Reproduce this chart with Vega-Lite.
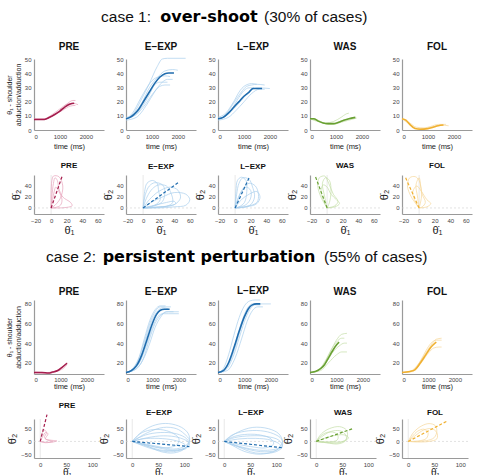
{
"$schema":"https://vega.github.io/schema/vega-lite/v6.json",
"padding":{"left":5,"top":5,"right":5,"bottom":0},
"autosize":{"type":"pad"},
"config":{"font":"Liberation Sans","view":{"stroke":null},
"axis":{"grid":false,"domainColor":"#9a9a9a","domainWidth":1.2,"ticks":false,"labelFontSize":6,"labelColor":"#444","labelPadding":3,"titleFontSize":7.5,"titleFontWeight":"normal","titleColor":"#222","titlePadding":3},
"title":{"fontSize":10,"fontWeight":"bold","offset":5,"color":"#111"}},
"datasets":{
"a1":[{"k":0,"t":0,"v":7.5},{"k":0,"t":400,"v":7.5},{"k":0,"t":600,"v":9},{"k":0,"t":800,"v":11},{"k":0,"t":1000,"v":13.5},{"k":0,"t":1200,"v":16.5},{"k":0,"t":1400,"v":18.5},{"k":0,"t":1550,"v":19},
{"k":1,"t":0,"v":7.5},{"k":1,"t":400,"v":7.5},{"k":1,"t":700,"v":10},{"k":1,"t":1000,"v":14},{"k":1,"t":1300,"v":19},{"k":1,"t":1500,"v":21},{"k":1,"t":1600,"v":21},
{"k":2,"t":0,"v":7.5},{"k":2,"t":500,"v":8},{"k":2,"t":800,"v":11},{"k":2,"t":1100,"v":14},{"k":2,"t":1400,"v":17},{"k":2,"t":1600,"v":17.5},
{"k":3,"t":0,"v":8},{"k":3,"t":400,"v":8},{"k":3,"t":700,"v":11},{"k":3,"t":1000,"v":15},{"k":3,"t":1300,"v":18.5},{"k":3,"t":1500,"v":19},{"k":3,"t":1700,"v":18}],
"a2":[{"k":0,"t":0,"v":8},{"k":0,"t":150,"v":9},{"k":0,"t":300,"v":11},{"k":0,"t":500,"v":15},{"k":0,"t":700,"v":21},{"k":0,"t":900,"v":27},{"k":0,"t":1100,"v":33},{"k":0,"t":1300,"v":37.5},{"k":0,"t":1500,"v":40},{"k":0,"t":1650,"v":40.5},{"k":0,"t":1850,"v":40.5},
{"k":1,"t":0,"v":8},{"k":1,"t":300,"v":12},{"k":1,"t":600,"v":22},{"k":1,"t":900,"v":33},{"k":1,"t":1200,"v":45},{"k":1,"t":1400,"v":50.5},{"k":1,"t":1600,"v":51},{"k":1,"t":2300,"v":51},
{"k":2,"t":0,"v":8},{"k":2,"t":300,"v":11},{"k":2,"t":600,"v":19},{"k":2,"t":900,"v":30},{"k":2,"t":1200,"v":37},{"k":2,"t":1500,"v":42},{"k":2,"t":1800,"v":43},{"k":2,"t":2000,"v":42.5},
{"k":3,"t":0,"v":8},{"k":3,"t":300,"v":10},{"k":3,"t":600,"v":16},{"k":3,"t":900,"v":25},{"k":3,"t":1100,"v":32},{"k":3,"t":1300,"v":34},{"k":3,"t":1600,"v":34},
{"k":4,"t":0,"v":9},{"k":4,"t":300,"v":10},{"k":4,"t":700,"v":17},{"k":4,"t":1000,"v":25},{"k":4,"t":1300,"v":31},{"k":4,"t":1500,"v":32},{"k":4,"t":1700,"v":32},
{"k":5,"t":0,"v":8},{"k":5,"t":250,"v":12},{"k":5,"t":550,"v":22},{"k":5,"t":800,"v":30},{"k":5,"t":1000,"v":35},{"k":5,"t":1300,"v":38},{"k":5,"t":1500,"v":38.5},{"k":5,"t":1700,"v":38},
{"k":6,"t":0,"v":7},{"k":6,"t":400,"v":9},{"k":6,"t":800,"v":18},{"k":6,"t":1100,"v":27},{"k":6,"t":1400,"v":34},{"k":6,"t":1600,"v":36},{"k":6,"t":1800,"v":36}],
"a3":[{"k":0,"t":0,"v":8},{"k":0,"t":200,"v":9},{"k":0,"t":400,"v":12},{"k":0,"t":600,"v":16},{"k":0,"t":800,"v":20},{"k":0,"t":1000,"v":24},{"k":0,"t":1200,"v":27},{"k":0,"t":1350,"v":29.5},{"k":0,"t":1700,"v":29.5},
{"k":1,"t":0,"v":8},{"k":1,"t":300,"v":11},{"k":1,"t":600,"v":19},{"k":1,"t":900,"v":27},{"k":1,"t":1100,"v":31},{"k":1,"t":1300,"v":32},{"k":1,"t":1500,"v":32.5},{"k":1,"t":1800,"v":32},
{"k":2,"t":0,"v":8},{"k":2,"t":300,"v":10},{"k":2,"t":600,"v":15},{"k":2,"t":900,"v":21},{"k":2,"t":1200,"v":27},{"k":2,"t":1500,"v":30},{"k":2,"t":2000,"v":29.5},
{"k":3,"t":0,"v":9},{"k":3,"t":300,"v":12},{"k":3,"t":600,"v":20},{"k":3,"t":850,"v":28},{"k":3,"t":1000,"v":31},{"k":3,"t":1300,"v":33},{"k":3,"t":1500,"v":32.5},
{"k":4,"t":0,"v":7},{"k":4,"t":400,"v":9},{"k":4,"t":700,"v":14},{"k":4,"t":1000,"v":20},{"k":4,"t":1300,"v":26},{"k":4,"t":1600,"v":29},{"k":4,"t":1800,"v":29},
{"k":5,"t":0,"v":8},{"k":5,"t":300,"v":10},{"k":5,"t":500,"v":14},{"k":5,"t":800,"v":23},{"k":5,"t":1000,"v":28},{"k":5,"t":1200,"v":30},{"k":5,"t":1400,"v":30}],
"a4":[{"k":0,"t":0,"v":8},{"k":0,"t":150,"v":8},{"k":0,"t":300,"v":6.5},{"k":0,"t":500,"v":5},{"k":0,"t":700,"v":4.5},{"k":0,"t":900,"v":4.5},{"k":0,"t":1100,"v":5.5},{"k":0,"t":1300,"v":7},{"k":0,"t":1500,"v":8},{"k":0,"t":1750,"v":9},
{"k":1,"t":0,"v":8},{"k":1,"t":300,"v":6},{"k":1,"t":600,"v":5},{"k":1,"t":900,"v":6},{"k":1,"t":1200,"v":9},{"k":1,"t":1400,"v":11.5},{"k":1,"t":1500,"v":12},
{"k":2,"t":0,"v":8},{"k":2,"t":300,"v":7},{"k":2,"t":600,"v":4.5},{"k":2,"t":900,"v":4},{"k":2,"t":1200,"v":5.5},{"k":2,"t":1500,"v":7},{"k":2,"t":1800,"v":8.5},
{"k":3,"t":0,"v":8},{"k":3,"t":400,"v":6},{"k":3,"t":700,"v":4},{"k":3,"t":1000,"v":4.5},{"k":3,"t":1300,"v":7},{"k":3,"t":1700,"v":9}],
"a5":[{"k":0,"t":0,"v":8},{"k":0,"t":150,"v":7},{"k":0,"t":300,"v":4},{"k":0,"t":500,"v":1},{"k":0,"t":700,"v":0.5},{"k":0,"t":1000,"v":1},{"k":0,"t":1200,"v":2},{"k":0,"t":1400,"v":3},{"k":0,"t":1600,"v":3.5},
{"k":1,"t":0,"v":8},{"k":1,"t":300,"v":4},{"k":1,"t":600,"v":1},{"k":1,"t":900,"v":1},{"k":1,"t":1200,"v":2.5},{"k":1,"t":1500,"v":3.5},{"k":1,"t":1800,"v":3},
{"k":2,"t":0,"v":8},{"k":2,"t":300,"v":5},{"k":2,"t":550,"v":2},{"k":2,"t":850,"v":1.5},{"k":2,"t":1100,"v":2.5},{"k":2,"t":1400,"v":4},{"k":2,"t":1700,"v":4}],
"b1":[{"k":0,"i":0,"x":0,"y":0},{"k":0,"i":1,"x":14,"y":57},
{"k":1,"i":0,"x":0,"y":0},{"k":1,"i":1,"x":1,"y":20},{"k":1,"i":2,"x":3,"y":45},{"k":1,"i":3,"x":5,"y":55},{"k":1,"i":4,"x":8,"y":50},{"k":1,"i":5,"x":10,"y":35},{"k":1,"i":6,"x":15,"y":20},{"k":1,"i":7,"x":25,"y":10},{"k":1,"i":8,"x":27,"y":4},{"k":1,"i":9,"x":20,"y":1},{"k":1,"i":10,"x":10,"y":0},{"k":1,"i":11,"x":0,"y":0},
{"k":2,"i":0,"x":0,"y":0},{"k":2,"i":1,"x":2,"y":15},{"k":2,"i":2,"x":4,"y":30},{"k":2,"i":3,"x":6,"y":38},{"k":2,"i":4,"x":10,"y":30},{"k":2,"i":5,"x":14,"y":15},{"k":2,"i":6,"x":12,"y":5},{"k":2,"i":7,"x":6,"y":1},{"k":2,"i":8,"x":0,"y":0},
{"k":3,"i":0,"x":0,"y":0},{"k":3,"i":1,"x":0,"y":25},{"k":3,"i":2,"x":1,"y":50},{"k":3,"i":3,"x":3,"y":58},{"k":3,"i":4,"x":10,"y":57},{"k":3,"i":5,"x":15,"y":40},{"k":3,"i":6,"x":12,"y":18},{"k":3,"i":7,"x":5,"y":5},{"k":3,"i":8,"x":0,"y":0}],
"b2":[{"k":0,"i":0,"x":0,"y":0},{"k":0,"i":1,"x":45,"y":46},
{"k":1,"i":0,"x":0,"y":0},{"k":1,"i":1,"x":5,"y":20},{"k":1,"i":2,"x":12,"y":35},{"k":1,"i":3,"x":20,"y":42},{"k":1,"i":4,"x":30,"y":40},{"k":1,"i":5,"x":35,"y":30},{"k":1,"i":6,"x":38,"y":10},{"k":1,"i":7,"x":30,"y":3},{"k":1,"i":8,"x":15,"y":1},{"k":1,"i":9,"x":0,"y":0},
{"k":2,"i":0,"x":0,"y":0},{"k":2,"i":1,"x":3,"y":25},{"k":2,"i":2,"x":8,"y":40},{"k":2,"i":3,"x":15,"y":46},{"k":2,"i":4,"x":25,"y":42},{"k":2,"i":5,"x":28,"y":30},{"k":2,"i":6,"x":25,"y":12},{"k":2,"i":7,"x":15,"y":4},{"k":2,"i":8,"x":0,"y":0},
{"k":3,"i":0,"x":0,"y":0},{"k":3,"i":1,"x":10,"y":10},{"k":3,"i":2,"x":25,"y":20},{"k":3,"i":3,"x":40,"y":28},{"k":3,"i":4,"x":55,"y":25},{"k":3,"i":5,"x":60,"y":15},{"k":3,"i":6,"x":55,"y":5},{"k":3,"i":7,"x":40,"y":2},{"k":3,"i":8,"x":20,"y":0},{"k":3,"i":9,"x":0,"y":0},
{"k":4,"i":0,"x":0,"y":0},{"k":4,"i":1,"x":2,"y":30},{"k":4,"i":2,"x":5,"y":45},{"k":4,"i":3,"x":12,"y":50},{"k":4,"i":4,"x":18,"y":45},{"k":4,"i":5,"x":20,"y":30},{"k":4,"i":6,"x":22,"y":15},{"k":4,"i":7,"x":15,"y":5},{"k":4,"i":8,"x":0,"y":0},
{"k":5,"i":0,"x":0,"y":0},{"k":5,"i":1,"x":8,"y":15},{"k":5,"i":2,"x":20,"y":30},{"k":5,"i":3,"x":35,"y":38},{"k":5,"i":4,"x":45,"y":32},{"k":5,"i":5,"x":48,"y":18},{"k":5,"i":6,"x":40,"y":6},{"k":5,"i":7,"x":20,"y":2},{"k":5,"i":8,"x":0,"y":0},
{"k":6,"i":0,"x":0,"y":0},{"k":6,"i":1,"x":15,"y":5},{"k":6,"i":2,"x":30,"y":10},{"k":6,"i":3,"x":40,"y":12},{"k":6,"i":4,"x":42,"y":8},{"k":6,"i":5,"x":30,"y":3},{"k":6,"i":6,"x":0,"y":0}],
"b3":[{"k":0,"i":0,"x":0,"y":0},{"k":0,"i":1,"x":18,"y":55},
{"k":1,"i":0,"x":0,"y":0},{"k":1,"i":1,"x":2,"y":25},{"k":1,"i":2,"x":5,"y":45},{"k":1,"i":3,"x":10,"y":55},{"k":1,"i":4,"x":18,"y":52},{"k":1,"i":5,"x":22,"y":40},{"k":1,"i":6,"x":25,"y":20},{"k":1,"i":7,"x":20,"y":6},{"k":1,"i":8,"x":10,"y":1},{"k":1,"i":9,"x":0,"y":0},
{"k":2,"i":0,"x":0,"y":0},{"k":2,"i":1,"x":5,"y":20},{"k":2,"i":2,"x":10,"y":35},{"k":2,"i":3,"x":18,"y":45},{"k":2,"i":4,"x":26,"y":40},{"k":2,"i":5,"x":30,"y":25},{"k":2,"i":6,"x":28,"y":10},{"k":2,"i":7,"x":15,"y":3},{"k":2,"i":8,"x":0,"y":0},
{"k":3,"i":0,"x":0,"y":0},{"k":3,"i":1,"x":1,"y":30},{"k":3,"i":2,"x":3,"y":50},{"k":3,"i":3,"x":8,"y":56},{"k":3,"i":4,"x":14,"y":50},{"k":3,"i":5,"x":15,"y":30},{"k":3,"i":6,"x":12,"y":10},{"k":3,"i":7,"x":5,"y":2},{"k":3,"i":8,"x":0,"y":0},
{"k":4,"i":0,"x":0,"y":0},{"k":4,"i":1,"x":8,"y":15},{"k":4,"i":2,"x":18,"y":25},{"k":4,"i":3,"x":28,"y":30},{"k":4,"i":4,"x":32,"y":20},{"k":4,"i":5,"x":28,"y":8},{"k":4,"i":6,"x":15,"y":2},{"k":4,"i":7,"x":0,"y":0},
{"k":5,"i":0,"x":0,"y":0},{"k":5,"i":1,"x":3,"y":15},{"k":5,"i":2,"x":8,"y":30},{"k":5,"i":3,"x":14,"y":38},{"k":5,"i":4,"x":20,"y":32},{"k":5,"i":5,"x":20,"y":18},{"k":5,"i":6,"x":14,"y":6},{"k":5,"i":7,"x":0,"y":0}],
"b4":[{"k":0,"i":0,"x":0,"y":0},{"k":0,"i":1,"x":-15,"y":57},
{"k":1,"i":0,"x":0,"y":0},{"k":1,"i":1,"x":-8,"y":20},{"k":1,"i":2,"x":-12,"y":40},{"k":1,"i":3,"x":-10,"y":55},{"k":1,"i":4,"x":-3,"y":58},{"k":1,"i":5,"x":2,"y":45},{"k":1,"i":6,"x":8,"y":25},{"k":1,"i":7,"x":14,"y":12},{"k":1,"i":8,"x":10,"y":4},{"k":1,"i":9,"x":0,"y":0},
{"k":2,"i":0,"x":0,"y":0},{"k":2,"i":1,"x":-5,"y":15},{"k":2,"i":2,"x":-8,"y":30},{"k":2,"i":3,"x":-5,"y":42},{"k":2,"i":4,"x":0,"y":38},{"k":2,"i":5,"x":5,"y":25},{"k":2,"i":6,"x":12,"y":15},{"k":2,"i":7,"x":16,"y":8},{"k":2,"i":8,"x":10,"y":2},{"k":2,"i":9,"x":0,"y":0},
{"k":3,"i":0,"x":0,"y":0},{"k":3,"i":1,"x":-3,"y":20},{"k":3,"i":2,"x":-6,"y":45},{"k":3,"i":3,"x":-2,"y":55},{"k":3,"i":4,"x":3,"y":50},{"k":3,"i":5,"x":5,"y":30},{"k":3,"i":6,"x":3,"y":10},{"k":3,"i":7,"x":0,"y":0}],
"b5":[{"k":0,"i":0,"x":0,"y":0},{"k":0,"i":1,"x":-18,"y":57},
{"k":1,"i":0,"x":0,"y":0},{"k":1,"i":1,"x":-10,"y":20},{"k":1,"i":2,"x":-15,"y":40},{"k":1,"i":3,"x":-12,"y":55},{"k":1,"i":4,"x":-5,"y":57},{"k":1,"i":5,"x":0,"y":50},{"k":1,"i":6,"x":4,"y":25},{"k":1,"i":7,"x":8,"y":10},{"k":1,"i":8,"x":4,"y":2},{"k":1,"i":9,"x":0,"y":0},
{"k":2,"i":0,"x":0,"y":0},{"k":2,"i":1,"x":-6,"y":15},{"k":2,"i":2,"x":-8,"y":30},{"k":2,"i":3,"x":-3,"y":40},{"k":2,"i":4,"x":3,"y":30},{"k":2,"i":5,"x":10,"y":15},{"k":2,"i":6,"x":15,"y":8},{"k":2,"i":7,"x":10,"y":2},{"k":2,"i":8,"x":0,"y":0},
{"k":3,"i":0,"x":0,"y":0},{"k":3,"i":1,"x":-2,"y":20},{"k":3,"i":2,"x":-4,"y":42},{"k":3,"i":3,"x":0,"y":55},{"k":3,"i":4,"x":2,"y":40},{"k":3,"i":5,"x":3,"y":20},{"k":3,"i":6,"x":0,"y":0}],
"c1":[{"k":0,"t":0,"v":10},{"k":0,"t":300,"v":10},{"k":0,"t":550,"v":9.5},{"k":0,"t":700,"v":10.5},{"k":0,"t":900,"v":12},{"k":0,"t":1050,"v":15},{"k":0,"t":1250,"v":19.5},
{"k":1,"t":0,"v":10.5},{"k":1,"t":500,"v":10},{"k":1,"t":900,"v":12.5},{"k":1,"t":1100,"v":16},{"k":1,"t":1250,"v":20},
{"k":2,"t":0,"v":9.5},{"k":2,"t":500,"v":9},{"k":2,"t":900,"v":11.5},{"k":2,"t":1100,"v":14},{"k":2,"t":1250,"v":18}],
"c2":[{"k":0,"t":0,"v":10},{"k":0,"t":200,"v":12},{"k":0,"t":400,"v":17},{"k":0,"t":600,"v":28},{"k":0,"t":800,"v":44},{"k":0,"t":1000,"v":60},{"k":0,"t":1150,"v":69},{"k":0,"t":1300,"v":73.5},{"k":0,"t":1450,"v":74.5},{"k":0,"t":1650,"v":74.5},
{"k":1,"t":0,"v":10},{"k":1,"t":300,"v":15},{"k":1,"t":500,"v":25},{"k":1,"t":700,"v":42},{"k":1,"t":900,"v":60},{"k":1,"t":1100,"v":72},{"k":1,"t":1300,"v":77},{"k":1,"t":1500,"v":77},{"k":1,"t":1700,"v":77},
{"k":2,"t":0,"v":10},{"k":2,"t":300,"v":13},{"k":2,"t":600,"v":25},{"k":2,"t":800,"v":40},{"k":2,"t":1000,"v":56},{"k":2,"t":1200,"v":67},{"k":2,"t":1400,"v":70},{"k":2,"t":1600,"v":70},{"k":2,"t":2000,"v":70},
{"k":3,"t":0,"v":10},{"k":3,"t":300,"v":14},{"k":3,"t":600,"v":30},{"k":3,"t":800,"v":48},{"k":3,"t":1000,"v":64},{"k":3,"t":1200,"v":73},{"k":3,"t":1400,"v":76},{"k":3,"t":1600,"v":75},
{"k":4,"t":0,"v":10},{"k":4,"t":400,"v":14},{"k":4,"t":700,"v":26},{"k":4,"t":900,"v":40},{"k":4,"t":1100,"v":56},{"k":4,"t":1300,"v":66},{"k":4,"t":1500,"v":72},{"k":4,"t":1800,"v":72},
{"k":5,"t":0,"v":10},{"k":5,"t":250,"v":14},{"k":5,"t":500,"v":26},{"k":5,"t":700,"v":45},{"k":5,"t":900,"v":63},{"k":5,"t":1100,"v":74},{"k":5,"t":1300,"v":78},{"k":5,"t":1500,"v":78},
{"k":6,"t":0,"v":10},{"k":6,"t":350,"v":13},{"k":6,"t":650,"v":24},{"k":6,"t":900,"v":45},{"k":6,"t":1100,"v":60},{"k":6,"t":1300,"v":68},{"k":6,"t":1600,"v":72},{"k":6,"t":2000,"v":72}],
"c3":[{"k":0,"t":0,"v":10},{"k":0,"t":200,"v":12},{"k":0,"t":400,"v":20},{"k":0,"t":600,"v":35},{"k":0,"t":800,"v":52},{"k":0,"t":1000,"v":67},{"k":0,"t":1150,"v":75},{"k":0,"t":1300,"v":79},{"k":0,"t":1450,"v":80},{"k":0,"t":1600,"v":80},
{"k":1,"t":0,"v":10},{"k":1,"t":200,"v":14},{"k":1,"t":400,"v":28},{"k":1,"t":600,"v":48},{"k":1,"t":800,"v":66},{"k":1,"t":1000,"v":78},{"k":1,"t":1200,"v":83},{"k":1,"t":1400,"v":84},{"k":1,"t":1600,"v":84},
{"k":2,"t":0,"v":10},{"k":2,"t":300,"v":14},{"k":2,"t":500,"v":24},{"k":2,"t":700,"v":40},{"k":2,"t":900,"v":58},{"k":2,"t":1100,"v":72},{"k":2,"t":1300,"v":79},{"k":2,"t":1500,"v":80},{"k":2,"t":2000,"v":80},
{"k":3,"t":0,"v":10},{"k":3,"t":300,"v":13},{"k":3,"t":600,"v":28},{"k":3,"t":800,"v":45},{"k":3,"t":1000,"v":62},{"k":3,"t":1200,"v":74},{"k":3,"t":1400,"v":79},{"k":3,"t":1600,"v":79},
{"k":4,"t":0,"v":10},{"k":4,"t":250,"v":13},{"k":4,"t":500,"v":26},{"k":4,"t":700,"v":44},{"k":4,"t":900,"v":62},{"k":4,"t":1100,"v":75},{"k":4,"t":1300,"v":80},{"k":4,"t":1600,"v":80},
{"k":5,"t":0,"v":10},{"k":5,"t":350,"v":12},{"k":5,"t":650,"v":25},{"k":5,"t":900,"v":45},{"k":5,"t":1100,"v":62},{"k":5,"t":1300,"v":73},{"k":5,"t":1500,"v":77},{"k":5,"t":1700,"v":77}],
"c4":[{"k":0,"t":0,"v":10},{"k":0,"t":200,"v":11},{"k":0,"t":400,"v":14},{"k":0,"t":550,"v":18},{"k":0,"t":700,"v":25},{"k":0,"t":850,"v":32},{"k":0,"t":1000,"v":38},{"k":0,"t":1100,"v":41},
{"k":1,"t":0,"v":10},{"k":1,"t":300,"v":12},{"k":1,"t":600,"v":22},{"k":1,"t":800,"v":33},{"k":1,"t":1000,"v":43},{"k":1,"t":1200,"v":49},{"k":1,"t":1400,"v":50},
{"k":2,"t":0,"v":10},{"k":2,"t":300,"v":12},{"k":2,"t":600,"v":20},{"k":2,"t":900,"v":32},{"k":2,"t":1100,"v":37},{"k":2,"t":1300,"v":40},{"k":2,"t":1400,"v":40},
{"k":3,"t":0,"v":10},{"k":3,"t":400,"v":12},{"k":3,"t":700,"v":20},{"k":3,"t":1000,"v":28},{"k":3,"t":1200,"v":31},{"k":3,"t":1400,"v":31},
{"k":4,"t":0,"v":10},{"k":4,"t":300,"v":12},{"k":4,"t":600,"v":23},{"k":4,"t":800,"v":33},{"k":4,"t":1000,"v":41},{"k":4,"t":1200,"v":45},{"k":4,"t":1300,"v":45}],
"c5":[{"k":0,"t":0,"v":10},{"k":0,"t":300,"v":11},{"k":0,"t":500,"v":13},{"k":0,"t":700,"v":20},{"k":0,"t":900,"v":28},{"k":0,"t":1100,"v":36},{"k":0,"t":1250,"v":40},{"k":0,"t":1300,"v":41},
{"k":1,"t":0,"v":10},{"k":1,"t":300,"v":11},{"k":1,"t":600,"v":18},{"k":1,"t":900,"v":30},{"k":1,"t":1100,"v":38},{"k":1,"t":1300,"v":44},{"k":1,"t":1500,"v":45},
{"k":2,"t":0,"v":10},{"k":2,"t":400,"v":11},{"k":2,"t":700,"v":19},{"k":2,"t":1000,"v":30},{"k":2,"t":1200,"v":35},{"k":2,"t":1400,"v":36},{"k":2,"t":1500,"v":36},
{"k":3,"t":0,"v":10},{"k":3,"t":400,"v":12},{"k":3,"t":700,"v":22},{"k":3,"t":900,"v":32},{"k":3,"t":1100,"v":40},{"k":3,"t":1300,"v":43},{"k":3,"t":1500,"v":43}],
"d1":[{"k":0,"i":0,"x":0,"y":0},{"k":0,"i":1,"x":13,"y":105},
{"k":1,"i":0,"x":0,"y":0},{"k":1,"i":1,"x":5,"y":20},{"k":1,"i":2,"x":10,"y":35},{"k":1,"i":3,"x":15,"y":30},{"k":1,"i":4,"x":10,"y":10},{"k":1,"i":5,"x":20,"y":5},{"k":1,"i":6,"x":32,"y":2},{"k":1,"i":7,"x":25,"y":-2},{"k":1,"i":8,"x":10,"y":-3},{"k":1,"i":9,"x":0,"y":0},
{"k":2,"i":0,"x":0,"y":0},{"k":2,"i":1,"x":3,"y":30},{"k":2,"i":2,"x":8,"y":45},{"k":2,"i":3,"x":12,"y":35},{"k":2,"i":4,"x":8,"y":15},{"k":2,"i":5,"x":15,"y":5},{"k":2,"i":6,"x":25,"y":0},{"k":2,"i":7,"x":10,"y":-5},{"k":2,"i":8,"x":0,"y":0}],
"d2":[{"k":0,"i":0,"x":0,"y":0},{"k":0,"i":1,"x":110,"y":-20},
{"k":1,"i":0,"x":0,"y":0},{"k":1,"i":1,"x":20,"y":40},{"k":1,"i":2,"x":45,"y":65},{"k":1,"i":3,"x":70,"y":70},{"k":1,"i":4,"x":95,"y":55},{"k":1,"i":5,"x":108,"y":30},{"k":1,"i":6,"x":110,"y":0},{"k":1,"i":7,"x":100,"y":-20},{"k":1,"i":8,"x":80,"y":-30},{"k":1,"i":9,"x":50,"y":-20},{"k":1,"i":10,"x":20,"y":-8},{"k":1,"i":11,"x":0,"y":0},
{"k":2,"i":0,"x":0,"y":0},{"k":2,"i":1,"x":25,"y":25},{"k":2,"i":2,"x":55,"y":35},{"k":2,"i":3,"x":85,"y":30},{"k":2,"i":4,"x":105,"y":10},{"k":2,"i":5,"x":110,"y":-15},{"k":2,"i":6,"x":95,"y":-30},{"k":2,"i":7,"x":60,"y":-35},{"k":2,"i":8,"x":30,"y":-20},{"k":2,"i":9,"x":0,"y":0},
{"k":3,"i":0,"x":0,"y":0},{"k":3,"i":1,"x":30,"y":15},{"k":3,"i":2,"x":60,"y":22},{"k":3,"i":3,"x":90,"y":15},{"k":3,"i":4,"x":108,"y":-5},{"k":3,"i":5,"x":100,"y":-30},{"k":3,"i":6,"x":80,"y":-45},{"k":3,"i":7,"x":55,"y":-40},{"k":3,"i":8,"x":25,"y":-15},{"k":3,"i":9,"x":0,"y":0},
{"k":4,"i":0,"x":0,"y":0},{"k":4,"i":1,"x":15,"y":30},{"k":4,"i":2,"x":35,"y":45},{"k":4,"i":3,"x":60,"y":45},{"k":4,"i":4,"x":80,"y":30},{"k":4,"i":5,"x":90,"y":10},{"k":4,"i":6,"x":85,"y":-15},{"k":4,"i":7,"x":60,"y":-25},{"k":4,"i":8,"x":30,"y":-15},{"k":4,"i":9,"x":0,"y":0},
{"k":5,"i":0,"x":0,"y":0},{"k":5,"i":1,"x":20,"y":10},{"k":5,"i":2,"x":50,"y":12},{"k":5,"i":3,"x":80,"y":5},{"k":5,"i":4,"x":100,"y":-10},{"k":5,"i":5,"x":105,"y":-25},{"k":5,"i":6,"x":85,"y":-35},{"k":5,"i":7,"x":50,"y":-25},{"k":5,"i":8,"x":20,"y":-10},{"k":5,"i":9,"x":0,"y":0},
{"k":6,"i":0,"x":0,"y":0},{"k":6,"i":1,"x":30,"y":35},{"k":6,"i":2,"x":60,"y":55},{"k":6,"i":3,"x":85,"y":50},{"k":6,"i":4,"x":100,"y":30},{"k":6,"i":5,"x":110,"y":5},{"k":6,"i":6,"x":105,"y":-20},{"k":6,"i":7,"x":80,"y":-40},{"k":6,"i":8,"x":40,"y":-30},{"k":6,"i":9,"x":0,"y":0}],
"d3":[{"k":0,"i":0,"x":0,"y":0},{"k":0,"i":1,"x":112,"y":-25},
{"k":1,"i":0,"x":0,"y":0},{"k":1,"i":1,"x":15,"y":25},{"k":1,"i":2,"x":40,"y":40},{"k":1,"i":3,"x":70,"y":42},{"k":1,"i":4,"x":95,"y":30},{"k":1,"i":5,"x":110,"y":10},{"k":1,"i":6,"x":112,"y":-15},{"k":1,"i":7,"x":100,"y":-35},{"k":1,"i":8,"x":70,"y":-40},{"k":1,"i":9,"x":35,"y":-25},{"k":1,"i":10,"x":0,"y":0},
{"k":2,"i":0,"x":0,"y":0},{"k":2,"i":1,"x":20,"y":15},{"k":2,"i":2,"x":50,"y":22},{"k":2,"i":3,"x":80,"y":20},{"k":2,"i":4,"x":105,"y":5},{"k":2,"i":5,"x":112,"y":-20},{"k":2,"i":6,"x":100,"y":-40},{"k":2,"i":7,"x":60,"y":-45},{"k":2,"i":8,"x":25,"y":-20},{"k":2,"i":9,"x":0,"y":0},
{"k":3,"i":0,"x":0,"y":0},{"k":3,"i":1,"x":25,"y":35},{"k":3,"i":2,"x":55,"y":55},{"k":3,"i":3,"x":85,"y":50},{"k":3,"i":4,"x":105,"y":30},{"k":3,"i":5,"x":112,"y":0},{"k":3,"i":6,"x":105,"y":-25},{"k":3,"i":7,"x":75,"y":-35},{"k":3,"i":8,"x":40,"y":-25},{"k":3,"i":9,"x":0,"y":0},
{"k":4,"i":0,"x":0,"y":0},{"k":4,"i":1,"x":30,"y":10},{"k":4,"i":2,"x":60,"y":12},{"k":4,"i":3,"x":90,"y":5},{"k":4,"i":4,"x":108,"y":-15},{"k":4,"i":5,"x":100,"y":-35},{"k":4,"i":6,"x":70,"y":-50},{"k":4,"i":7,"x":40,"y":-40},{"k":4,"i":8,"x":15,"y":-15},{"k":4,"i":9,"x":0,"y":0},
{"k":5,"i":0,"x":0,"y":0},{"k":5,"i":1,"x":20,"y":20},{"k":5,"i":2,"x":45,"y":28},{"k":5,"i":3,"x":70,"y":25},{"k":5,"i":4,"x":90,"y":10},{"k":5,"i":5,"x":95,"y":-10},{"k":5,"i":6,"x":80,"y":-25},{"k":5,"i":7,"x":50,"y":-20},{"k":5,"i":8,"x":0,"y":0}],
"d4":[{"k":0,"i":0,"x":0,"y":0},{"k":0,"i":1,"x":70,"y":50},
{"k":1,"i":0,"x":0,"y":0},{"k":1,"i":1,"x":10,"y":30},{"k":1,"i":2,"x":25,"y":50},{"k":1,"i":3,"x":45,"y":58},{"k":1,"i":4,"x":58,"y":45},{"k":1,"i":5,"x":60,"y":20},{"k":1,"i":6,"x":55,"y":0},{"k":1,"i":7,"x":40,"y":-10},{"k":1,"i":8,"x":20,"y":-5},{"k":1,"i":9,"x":0,"y":0},
{"k":2,"i":0,"x":0,"y":0},{"k":2,"i":1,"x":15,"y":25},{"k":2,"i":2,"x":30,"y":40},{"k":2,"i":3,"x":45,"y":42},{"k":2,"i":4,"x":55,"y":30},{"k":2,"i":5,"x":58,"y":10},{"k":2,"i":6,"x":45,"y":-5},{"k":2,"i":7,"x":20,"y":-5},{"k":2,"i":8,"x":0,"y":0},
{"k":3,"i":0,"x":0,"y":0},{"k":3,"i":1,"x":8,"y":20},{"k":3,"i":2,"x":20,"y":35},{"k":3,"i":3,"x":35,"y":35},{"k":3,"i":4,"x":42,"y":20},{"k":3,"i":5,"x":40,"y":5},{"k":3,"i":6,"x":25,"y":-2},{"k":3,"i":7,"x":0,"y":0},
{"k":4,"i":0,"x":0,"y":0},{"k":4,"i":1,"x":20,"y":15},{"k":4,"i":2,"x":40,"y":25},{"k":4,"i":3,"x":55,"y":25},{"k":4,"i":4,"x":62,"y":15},{"k":4,"i":5,"x":55,"y":2},{"k":4,"i":6,"x":30,"y":-3},{"k":4,"i":7,"x":0,"y":0}],
"d5":[{"k":0,"i":0,"x":0,"y":0},{"k":0,"i":1,"x":75,"y":80},
{"k":1,"i":0,"x":0,"y":0},{"k":1,"i":1,"x":10,"y":35},{"k":1,"i":2,"x":25,"y":60},{"k":1,"i":3,"x":40,"y":70},{"k":1,"i":4,"x":52,"y":62},{"k":1,"i":5,"x":55,"y":40},{"k":1,"i":6,"x":50,"y":15},{"k":1,"i":7,"x":35,"y":3},{"k":1,"i":8,"x":15,"y":0},{"k":1,"i":9,"x":0,"y":0},
{"k":2,"i":0,"x":0,"y":0},{"k":2,"i":1,"x":15,"y":25},{"k":2,"i":2,"x":30,"y":45},{"k":2,"i":3,"x":45,"y":50},{"k":2,"i":4,"x":55,"y":35},{"k":2,"i":5,"x":55,"y":10},{"k":2,"i":6,"x":40,"y":0},{"k":2,"i":7,"x":15,"y":-2},{"k":2,"i":8,"x":0,"y":0},
{"k":3,"i":0,"x":0,"y":0},{"k":3,"i":1,"x":8,"y":20},{"k":3,"i":2,"x":18,"y":40},{"k":3,"i":3,"x":30,"y":48},{"k":3,"i":4,"x":38,"y":35},{"k":3,"i":5,"x":35,"y":12},{"k":3,"i":6,"x":20,"y":2},{"k":3,"i":7,"x":0,"y":0}]
},
"spacing":12,
"vconcat":[
 {"width":410,"height":24,"data":{"values":[{}]},"layer":[
  {"mark":{"type":"text","text":"case 1:","align":"right","dx":-88,"fontSize":15.5,"color":"#111"},"encoding":{}},
  {"mark":{"type":"text","text":"over-shoot","align":"center","dx":-30,"fontSize":16,"font":"DejaVu Sans","fontWeight":"bold","color":"#000"},"encoding":{}},
  {"mark":{"type":"text","text":"(30% of cases)","align":"left","dx":25,"fontSize":15.5,"color":"#111"},"encoding":{}}]},
 {"bounds":"flush","spacing":22,"hconcat":[
   {"width":70,"height":71,"title":"PRE","data":{"name":"a1"},
    "encoding":{"x":{"field":"t","type":"quantitative","scale":{"domain":[0,2700],"nice":false},"axis":{"values":[0,1000,2000],"format":"d","title":"time (ms)"}},"y":{"field":"v","type":"quantitative","scale":{"domain":[0,50.5],"nice":false},"axis":{"values":[0,10,20,30,40,50],"title":["θ₁ - shoulder","abduction/adduction"],"titleFontSize":7}}},
    "layer":[{"transform":[{"filter":"datum.k>0"}],"mark":{"type":"line","interpolate":"monotone","color":"#e7a2ba","strokeWidth":0.7},"encoding":{"detail":{"field":"k"}}},
             {"transform":[{"filter":"datum.k==0"}],"mark":{"type":"line","interpolate":"monotone","color":"#a51d4d","strokeWidth":1.6}}]},
   {"width":70,"height":71,"title":"E\u2212EXP","data":{"name":"a2"},
    "encoding":{"x":{"field":"t","type":"quantitative","scale":{"domain":[0,2700],"nice":false},"axis":{"values":[0,1000,2000],"format":"d","title":"time (ms)"}},"y":{"field":"v","type":"quantitative","scale":{"domain":[0,50.5],"nice":false},"axis":{"values":[0,10,20,30,40,50],"title":null}}},
    "layer":[{"transform":[{"filter":"datum.k>0"}],"mark":{"type":"line","interpolate":"monotone","color":"#a9cfec","strokeWidth":0.7},"encoding":{"detail":{"field":"k"}}},
             {"transform":[{"filter":"datum.k==0"}],"mark":{"type":"line","interpolate":"monotone","color":"#1f6cae","strokeWidth":1.6}}]},
   {"width":70,"height":71,"title":"L\u2212EXP","data":{"name":"a3"},
    "encoding":{"x":{"field":"t","type":"quantitative","scale":{"domain":[0,2700],"nice":false},"axis":{"values":[0,1000,2000],"format":"d","title":"time (ms)"}},"y":{"field":"v","type":"quantitative","scale":{"domain":[0,50.5],"nice":false},"axis":{"values":[0,10,20,30,40,50],"title":null}}},
    "layer":[{"transform":[{"filter":"datum.k>0"}],"mark":{"type":"line","interpolate":"monotone","color":"#a9cfec","strokeWidth":0.7},"encoding":{"detail":{"field":"k"}}},
             {"transform":[{"filter":"datum.k==0"}],"mark":{"type":"line","interpolate":"monotone","color":"#1f6cae","strokeWidth":1.6}}]},
   {"width":70,"height":71,"title":"WAS","data":{"name":"a4"},
    "encoding":{"x":{"field":"t","type":"quantitative","scale":{"domain":[0,2700],"nice":false},"axis":{"values":[0,1000,2000],"format":"d","title":"time (ms)"}},"y":{"field":"v","type":"quantitative","scale":{"domain":[0,50.5],"nice":false},"axis":{"values":[0,10,20,30,40,50],"title":null}}},
    "layer":[{"transform":[{"filter":"datum.k>0"}],"mark":{"type":"line","interpolate":"monotone","color":"#c4dea8","strokeWidth":0.7},"encoding":{"detail":{"field":"k"}}},
             {"transform":[{"filter":"datum.k==0"}],"mark":{"type":"line","interpolate":"monotone","color":"#68a032","strokeWidth":1.6}}]},
   {"width":70,"height":71,"title":"FOL","data":{"name":"a5"},
    "encoding":{"x":{"field":"t","type":"quantitative","scale":{"domain":[0,2700],"nice":false},"axis":{"values":[0,1000,2000],"format":"d","title":"time (ms)"}},"y":{"field":"v","type":"quantitative","scale":{"domain":[0,50.5],"nice":false},"axis":{"values":[0,10,20,30,40,50],"title":null}}},
    "layer":[{"transform":[{"filter":"datum.k>0"}],"mark":{"type":"line","interpolate":"monotone","color":"#f6d79a","strokeWidth":0.7},"encoding":{"detail":{"field":"k"}}},
             {"transform":[{"filter":"datum.k==0"}],"mark":{"type":"line","interpolate":"monotone","color":"#f0b030","strokeWidth":1.6}}]}
 ]},
 {"bounds":"flush","spacing":22,"hconcat":[
   {"width":70,"height":39,"title":{"text":"PRE","fontSize":8,"offset":4},"layer":[
    {"data":{"values":[{}]},"mark":{"type":"rule","color":"#d9d9d9","strokeWidth":0.6},"encoding":{"x":{"datum":0,"type":"quantitative","scale":{"domain":[-22,68],"nice":false},"axis":{"values":[-20,0,20,40,60],"title":"θ̇₁","titleFontSize":11,"titlePadding":1}}}},
    {"data":{"values":[{}]},"mark":{"type":"rule","color":"#cfcfcf","strokeWidth":0.6,"strokeDash":[2,2]},"encoding":{"y":{"datum":0,"type":"quantitative","scale":{"domain":[-11,60],"nice":false},"axis":{"values":[0,20,40],"title":"θ̇₂","titleFontSize":11}}}},
    {"data":{"name":"b1"},"transform":[{"filter":"datum.k>0"}],"mark":{"type":"line","interpolate":"catmull-rom","color":"#e7a2ba","strokeWidth":0.7},
     "encoding":{"x":{"field":"x","type":"quantitative","scale":{"domain":[-22,68],"nice":false},"axis":{"values":[-20,0,20,40,60],"title":"θ̇₁","titleFontSize":11,"titlePadding":1}},"y":{"field":"y","type":"quantitative","scale":{"domain":[-11,60],"nice":false},"axis":{"values":[0,20,40],"title":"θ̇₂","titleFontSize":11}},"detail":{"field":"k"},"order":{"field":"i"}}},
    {"data":{"name":"b1"},"transform":[{"filter":"datum.k==0"}],"mark":{"type":"line","color":"#a51d4d","strokeWidth":1.2,"strokeDash":[3,2]},
     "encoding":{"x":{"field":"x","type":"quantitative","scale":{"domain":[-22,68],"nice":false},"axis":{"values":[-20,0,20,40,60],"title":"θ̇₁","titleFontSize":11,"titlePadding":1}},"y":{"field":"y","type":"quantitative","scale":{"domain":[-11,60],"nice":false},"axis":{"values":[0,20,40],"title":"θ̇₂","titleFontSize":11}},"order":{"field":"i"}}}]},
   {"width":70,"height":39,"title":{"text":"E\u2212EXP","fontSize":8,"offset":4},"layer":[
    {"data":{"values":[{}]},"mark":{"type":"rule","color":"#d9d9d9","strokeWidth":0.6},"encoding":{"x":{"datum":0,"type":"quantitative","scale":{"domain":[-22,68],"nice":false},"axis":{"values":[-20,0,20,40,60],"title":"θ̇₁","titleFontSize":11,"titlePadding":1}}}},
    {"data":{"values":[{}]},"mark":{"type":"rule","color":"#cfcfcf","strokeWidth":0.6,"strokeDash":[2,2]},"encoding":{"y":{"datum":0,"type":"quantitative","scale":{"domain":[-11,60],"nice":false},"axis":{"values":[0,20,40],"title":"θ̇₂","titleFontSize":11}}}},
    {"data":{"name":"b2"},"transform":[{"filter":"datum.k>0"}],"mark":{"type":"line","interpolate":"catmull-rom","color":"#a9cfec","strokeWidth":0.7},
     "encoding":{"x":{"field":"x","type":"quantitative","scale":{"domain":[-22,68],"nice":false},"axis":{"values":[-20,0,20,40,60],"title":"θ̇₁","titleFontSize":11,"titlePadding":1}},"y":{"field":"y","type":"quantitative","scale":{"domain":[-11,60],"nice":false},"axis":{"values":[0,20,40],"title":"θ̇₂","titleFontSize":11}},"detail":{"field":"k"},"order":{"field":"i"}}},
    {"data":{"name":"b2"},"transform":[{"filter":"datum.k==0"}],"mark":{"type":"line","color":"#1f6cae","strokeWidth":1.2,"strokeDash":[3,2]},
     "encoding":{"x":{"field":"x","type":"quantitative","scale":{"domain":[-22,68],"nice":false},"axis":{"values":[-20,0,20,40,60],"title":"θ̇₁","titleFontSize":11,"titlePadding":1}},"y":{"field":"y","type":"quantitative","scale":{"domain":[-11,60],"nice":false},"axis":{"values":[0,20,40],"title":"θ̇₂","titleFontSize":11}},"order":{"field":"i"}}}]},
   {"width":70,"height":39,"title":{"text":"L\u2212EXP","fontSize":8,"offset":4},"layer":[
    {"data":{"values":[{}]},"mark":{"type":"rule","color":"#d9d9d9","strokeWidth":0.6},"encoding":{"x":{"datum":0,"type":"quantitative","scale":{"domain":[-22,68],"nice":false},"axis":{"values":[-20,0,20,40,60],"title":"θ̇₁","titleFontSize":11,"titlePadding":1}}}},
    {"data":{"values":[{}]},"mark":{"type":"rule","color":"#cfcfcf","strokeWidth":0.6,"strokeDash":[2,2]},"encoding":{"y":{"datum":0,"type":"quantitative","scale":{"domain":[-11,60],"nice":false},"axis":{"values":[0,20,40],"title":"θ̇₂","titleFontSize":11}}}},
    {"data":{"name":"b3"},"transform":[{"filter":"datum.k>0"}],"mark":{"type":"line","interpolate":"catmull-rom","color":"#a9cfec","strokeWidth":0.7},
     "encoding":{"x":{"field":"x","type":"quantitative","scale":{"domain":[-22,68],"nice":false},"axis":{"values":[-20,0,20,40,60],"title":"θ̇₁","titleFontSize":11,"titlePadding":1}},"y":{"field":"y","type":"quantitative","scale":{"domain":[-11,60],"nice":false},"axis":{"values":[0,20,40],"title":"θ̇₂","titleFontSize":11}},"detail":{"field":"k"},"order":{"field":"i"}}},
    {"data":{"name":"b3"},"transform":[{"filter":"datum.k==0"}],"mark":{"type":"line","color":"#1f6cae","strokeWidth":1.2,"strokeDash":[3,2]},
     "encoding":{"x":{"field":"x","type":"quantitative","scale":{"domain":[-22,68],"nice":false},"axis":{"values":[-20,0,20,40,60],"title":"θ̇₁","titleFontSize":11,"titlePadding":1}},"y":{"field":"y","type":"quantitative","scale":{"domain":[-11,60],"nice":false},"axis":{"values":[0,20,40],"title":"θ̇₂","titleFontSize":11}},"order":{"field":"i"}}}]},
   {"width":70,"height":39,"title":{"text":"WAS","fontSize":8,"offset":4},"layer":[
    {"data":{"values":[{}]},"mark":{"type":"rule","color":"#d9d9d9","strokeWidth":0.6},"encoding":{"x":{"datum":0,"type":"quantitative","scale":{"domain":[-22,68],"nice":false},"axis":{"values":[-20,0,20,40,60],"title":"θ̇₁","titleFontSize":11,"titlePadding":1}}}},
    {"data":{"values":[{}]},"mark":{"type":"rule","color":"#cfcfcf","strokeWidth":0.6,"strokeDash":[2,2]},"encoding":{"y":{"datum":0,"type":"quantitative","scale":{"domain":[-11,60],"nice":false},"axis":{"values":[0,20,40],"title":"θ̇₂","titleFontSize":11}}}},
    {"data":{"name":"b4"},"transform":[{"filter":"datum.k>0"}],"mark":{"type":"line","interpolate":"catmull-rom","color":"#c4dea8","strokeWidth":0.7},
     "encoding":{"x":{"field":"x","type":"quantitative","scale":{"domain":[-22,68],"nice":false},"axis":{"values":[-20,0,20,40,60],"title":"θ̇₁","titleFontSize":11,"titlePadding":1}},"y":{"field":"y","type":"quantitative","scale":{"domain":[-11,60],"nice":false},"axis":{"values":[0,20,40],"title":"θ̇₂","titleFontSize":11}},"detail":{"field":"k"},"order":{"field":"i"}}},
    {"data":{"name":"b4"},"transform":[{"filter":"datum.k==0"}],"mark":{"type":"line","color":"#68a032","strokeWidth":1.2,"strokeDash":[3,2]},
     "encoding":{"x":{"field":"x","type":"quantitative","scale":{"domain":[-22,68],"nice":false},"axis":{"values":[-20,0,20,40,60],"title":"θ̇₁","titleFontSize":11,"titlePadding":1}},"y":{"field":"y","type":"quantitative","scale":{"domain":[-11,60],"nice":false},"axis":{"values":[0,20,40],"title":"θ̇₂","titleFontSize":11}},"order":{"field":"i"}}}]},
   {"width":70,"height":39,"title":{"text":"FOL","fontSize":8,"offset":4},"layer":[
    {"data":{"values":[{}]},"mark":{"type":"rule","color":"#d9d9d9","strokeWidth":0.6},"encoding":{"x":{"datum":0,"type":"quantitative","scale":{"domain":[-22,68],"nice":false},"axis":{"values":[-20,0,20,40,60],"title":"θ̇₁","titleFontSize":11,"titlePadding":1}}}},
    {"data":{"values":[{}]},"mark":{"type":"rule","color":"#cfcfcf","strokeWidth":0.6,"strokeDash":[2,2]},"encoding":{"y":{"datum":0,"type":"quantitative","scale":{"domain":[-11,60],"nice":false},"axis":{"values":[0,20,40],"title":"θ̇₂","titleFontSize":11}}}},
    {"data":{"name":"b5"},"transform":[{"filter":"datum.k>0"}],"mark":{"type":"line","interpolate":"catmull-rom","color":"#f6d79a","strokeWidth":0.7},
     "encoding":{"x":{"field":"x","type":"quantitative","scale":{"domain":[-22,68],"nice":false},"axis":{"values":[-20,0,20,40,60],"title":"θ̇₁","titleFontSize":11,"titlePadding":1}},"y":{"field":"y","type":"quantitative","scale":{"domain":[-11,60],"nice":false},"axis":{"values":[0,20,40],"title":"θ̇₂","titleFontSize":11}},"detail":{"field":"k"},"order":{"field":"i"}}},
    {"data":{"name":"b5"},"transform":[{"filter":"datum.k==0"}],"mark":{"type":"line","color":"#f0b030","strokeWidth":1.2,"strokeDash":[3,2]},
     "encoding":{"x":{"field":"x","type":"quantitative","scale":{"domain":[-22,68],"nice":false},"axis":{"values":[-20,0,20,40,60],"title":"θ̇₁","titleFontSize":11,"titlePadding":1}},"y":{"field":"y","type":"quantitative","scale":{"domain":[-11,60],"nice":false},"axis":{"values":[0,20,40],"title":"θ̇₂","titleFontSize":11}},"order":{"field":"i"}}}]}
 ]},
 {"width":410,"height":26,"data":{"values":[{}]},"layer":[
  {"mark":{"type":"text","text":"case 2:","align":"right","dx":-143,"dy":-3,"fontSize":15.5,"color":"#111"},"encoding":{}},
  {"mark":{"type":"text","text":"persistent perturbation","align":"center","dx":-30,"dy":-3,"fontSize":16,"font":"DejaVu Sans","fontWeight":"bold","color":"#000"},"encoding":{}},
  {"mark":{"type":"text","text":"(55% of cases)","align":"left","dx":85,"dy":-3,"fontSize":15.5,"color":"#111"},"encoding":{}}]},
 {"bounds":"flush","spacing":22,"hconcat":[
   {"width":70,"height":74,"title":{"text":"PRE","offset":3},"data":{"name":"c1"},
    "encoding":{"x":{"field":"t","type":"quantitative","scale":{"domain":[0,2650],"nice":false},"axis":{"values":[0,500,1000,1500,2000],"format":"d","title":"time (ms)","titlePadding":0,"labelPadding":2}},"y":{"field":"v","type":"quantitative","scale":{"domain":[8.5,84],"nice":false},"axis":{"values":[20,40,60,80],"title":["θ₁ - shoulder","abduction/adduction"],"titleFontSize":7}}},
    "layer":[{"transform":[{"filter":"datum.k>0"}],"mark":{"type":"line","interpolate":"monotone","color":"#e7a2ba","strokeWidth":0.7},"encoding":{"detail":{"field":"k"}}},
             {"transform":[{"filter":"datum.k==0"}],"mark":{"type":"line","interpolate":"monotone","color":"#a51d4d","strokeWidth":1.6}}]},
   {"width":70,"height":74,"title":{"text":"E\u2212EXP","offset":3},"data":{"name":"c2"},
    "encoding":{"x":{"field":"t","type":"quantitative","scale":{"domain":[0,2650],"nice":false},"axis":{"values":[0,500,1000,1500,2000],"format":"d","title":"time (ms)","titlePadding":0,"labelPadding":2}},"y":{"field":"v","type":"quantitative","scale":{"domain":[8.5,84],"nice":false},"axis":{"values":[20,40,60,80],"title":null}}},
    "layer":[{"transform":[{"filter":"datum.k>0"}],"mark":{"type":"line","interpolate":"monotone","color":"#a9cfec","strokeWidth":0.7},"encoding":{"detail":{"field":"k"}}},
             {"transform":[{"filter":"datum.k==0"}],"mark":{"type":"line","interpolate":"monotone","color":"#1f6cae","strokeWidth":1.6}}]},
   {"width":70,"height":74,"title":{"text":"L\u2212EXP","offset":3},"data":{"name":"c3"},
    "encoding":{"x":{"field":"t","type":"quantitative","scale":{"domain":[0,2650],"nice":false},"axis":{"values":[0,500,1000,1500,2000],"format":"d","title":"time (ms)","titlePadding":0,"labelPadding":2}},"y":{"field":"v","type":"quantitative","scale":{"domain":[8.5,84],"nice":false},"axis":{"values":[20,40,60,80],"title":null}}},
    "layer":[{"transform":[{"filter":"datum.k>0"}],"mark":{"type":"line","interpolate":"monotone","color":"#a9cfec","strokeWidth":0.7},"encoding":{"detail":{"field":"k"}}},
             {"transform":[{"filter":"datum.k==0"}],"mark":{"type":"line","interpolate":"monotone","color":"#1f6cae","strokeWidth":1.6}}]},
   {"width":70,"height":74,"title":{"text":"WAS","offset":3},"data":{"name":"c4"},
    "encoding":{"x":{"field":"t","type":"quantitative","scale":{"domain":[0,2650],"nice":false},"axis":{"values":[0,500,1000,1500,2000],"format":"d","title":"time (ms)","titlePadding":0,"labelPadding":2}},"y":{"field":"v","type":"quantitative","scale":{"domain":[8.5,84],"nice":false},"axis":{"values":[20,40,60,80],"title":null}}},
    "layer":[{"transform":[{"filter":"datum.k>0"}],"mark":{"type":"line","interpolate":"monotone","color":"#c4dea8","strokeWidth":0.7},"encoding":{"detail":{"field":"k"}}},
             {"transform":[{"filter":"datum.k==0"}],"mark":{"type":"line","interpolate":"monotone","color":"#68a032","strokeWidth":1.6}}]},
   {"width":70,"height":74,"title":{"text":"FOL","offset":3},"data":{"name":"c5"},
    "encoding":{"x":{"field":"t","type":"quantitative","scale":{"domain":[0,2650],"nice":false},"axis":{"values":[0,500,1000,1500,2000],"format":"d","title":"time (ms)","titlePadding":0,"labelPadding":2}},"y":{"field":"v","type":"quantitative","scale":{"domain":[8.5,84],"nice":false},"axis":{"values":[20,40,60,80],"title":null}}},
    "layer":[{"transform":[{"filter":"datum.k>0"}],"mark":{"type":"line","interpolate":"monotone","color":"#f6d79a","strokeWidth":0.7},"encoding":{"detail":{"field":"k"}}},
             {"transform":[{"filter":"datum.k==0"}],"mark":{"type":"line","interpolate":"monotone","color":"#f0b030","strokeWidth":1.6}}]}
 ]},
 {"bounds":"flush","spacing":26,"hconcat":[
   {"width":66,"height":39,"title":{"text":"PRE","fontSize":8,"offset":2},"layer":[
    {"data":{"values":[{}]},"mark":{"type":"rule","color":"#d9d9d9","strokeWidth":0.6},"encoding":{"x":{"datum":0,"type":"quantitative","scale":{"domain":[-12,115],"nice":false},"axis":{"values":[0,50,100],"title":"θ̇₁","titleFontSize":10,"titlePadding":0}}}},
    {"data":{"values":[{}]},"mark":{"type":"rule","color":"#cfcfcf","strokeWidth":0.6,"strokeDash":[2,2]},"encoding":{"y":{"datum":0,"type":"quantitative","scale":{"domain":[-65,88],"nice":false},"axis":{"values":[-50,0,50],"title":"θ̇₂","titleFontSize":11}}}},
    {"data":{"name":"d1"},"transform":[{"filter":"datum.k>0"}],"mark":{"type":"line","interpolate":"catmull-rom","color":"#e7a2ba","strokeWidth":0.7},
     "encoding":{"x":{"field":"x","type":"quantitative","scale":{"domain":[-12,115],"nice":false},"axis":{"values":[0,50,100],"title":"θ̇₁","titleFontSize":10,"titlePadding":0}},"y":{"field":"y","type":"quantitative","scale":{"domain":[-65,88],"nice":false},"axis":{"values":[-50,0,50],"title":"θ̇₂","titleFontSize":11}},"detail":{"field":"k"},"order":{"field":"i"}}},
    {"data":{"name":"d1"},"transform":[{"filter":"datum.k==0"}],"mark":{"type":"line","color":"#a51d4d","strokeWidth":1.2,"strokeDash":[3,2]},
     "encoding":{"x":{"field":"x","type":"quantitative","scale":{"domain":[-12,115],"nice":false},"axis":{"values":[0,50,100],"title":"θ̇₁","titleFontSize":10,"titlePadding":0}},"y":{"field":"y","type":"quantitative","scale":{"domain":[-65,88],"nice":false},"axis":{"values":[-50,0,50],"title":"θ̇₂","titleFontSize":11}},"order":{"field":"i"}}}]},
   {"width":66,"height":39,"title":{"text":"E\u2212EXP","fontSize":8,"offset":2},"layer":[
    {"data":{"values":[{}]},"mark":{"type":"rule","color":"#d9d9d9","strokeWidth":0.6},"encoding":{"x":{"datum":0,"type":"quantitative","scale":{"domain":[-12,115],"nice":false},"axis":{"values":[0,50,100],"title":"θ̇₁","titleFontSize":10,"titlePadding":0}}}},
    {"data":{"values":[{}]},"mark":{"type":"rule","color":"#cfcfcf","strokeWidth":0.6,"strokeDash":[2,2]},"encoding":{"y":{"datum":0,"type":"quantitative","scale":{"domain":[-65,88],"nice":false},"axis":{"values":[-50,0,50],"title":"θ̇₂","titleFontSize":11}}}},
    {"data":{"name":"d2"},"transform":[{"filter":"datum.k>0"}],"mark":{"type":"line","interpolate":"catmull-rom","color":"#a9cfec","strokeWidth":0.7},
     "encoding":{"x":{"field":"x","type":"quantitative","scale":{"domain":[-12,115],"nice":false},"axis":{"values":[0,50,100],"title":"θ̇₁","titleFontSize":10,"titlePadding":0}},"y":{"field":"y","type":"quantitative","scale":{"domain":[-65,88],"nice":false},"axis":{"values":[-50,0,50],"title":"θ̇₂","titleFontSize":11}},"detail":{"field":"k"},"order":{"field":"i"}}},
    {"data":{"name":"d2"},"transform":[{"filter":"datum.k==0"}],"mark":{"type":"line","color":"#1f6cae","strokeWidth":1.2,"strokeDash":[3,2]},
     "encoding":{"x":{"field":"x","type":"quantitative","scale":{"domain":[-12,115],"nice":false},"axis":{"values":[0,50,100],"title":"θ̇₁","titleFontSize":10,"titlePadding":0}},"y":{"field":"y","type":"quantitative","scale":{"domain":[-65,88],"nice":false},"axis":{"values":[-50,0,50],"title":"θ̇₂","titleFontSize":11}},"order":{"field":"i"}}}]},
   {"width":66,"height":39,"title":{"text":"L\u2212EXP","fontSize":8,"offset":2},"layer":[
    {"data":{"values":[{}]},"mark":{"type":"rule","color":"#d9d9d9","strokeWidth":0.6},"encoding":{"x":{"datum":0,"type":"quantitative","scale":{"domain":[-12,115],"nice":false},"axis":{"values":[0,50,100],"title":"θ̇₁","titleFontSize":10,"titlePadding":0}}}},
    {"data":{"values":[{}]},"mark":{"type":"rule","color":"#cfcfcf","strokeWidth":0.6,"strokeDash":[2,2]},"encoding":{"y":{"datum":0,"type":"quantitative","scale":{"domain":[-65,88],"nice":false},"axis":{"values":[-50,0,50],"title":"θ̇₂","titleFontSize":11}}}},
    {"data":{"name":"d3"},"transform":[{"filter":"datum.k>0"}],"mark":{"type":"line","interpolate":"catmull-rom","color":"#a9cfec","strokeWidth":0.7},
     "encoding":{"x":{"field":"x","type":"quantitative","scale":{"domain":[-12,115],"nice":false},"axis":{"values":[0,50,100],"title":"θ̇₁","titleFontSize":10,"titlePadding":0}},"y":{"field":"y","type":"quantitative","scale":{"domain":[-65,88],"nice":false},"axis":{"values":[-50,0,50],"title":"θ̇₂","titleFontSize":11}},"detail":{"field":"k"},"order":{"field":"i"}}},
    {"data":{"name":"d3"},"transform":[{"filter":"datum.k==0"}],"mark":{"type":"line","color":"#1f6cae","strokeWidth":1.2,"strokeDash":[3,2]},
     "encoding":{"x":{"field":"x","type":"quantitative","scale":{"domain":[-12,115],"nice":false},"axis":{"values":[0,50,100],"title":"θ̇₁","titleFontSize":10,"titlePadding":0}},"y":{"field":"y","type":"quantitative","scale":{"domain":[-65,88],"nice":false},"axis":{"values":[-50,0,50],"title":"θ̇₂","titleFontSize":11}},"order":{"field":"i"}}}]},
   {"width":66,"height":39,"title":{"text":"WAS","fontSize":8,"offset":2},"layer":[
    {"data":{"values":[{}]},"mark":{"type":"rule","color":"#d9d9d9","strokeWidth":0.6},"encoding":{"x":{"datum":0,"type":"quantitative","scale":{"domain":[-12,115],"nice":false},"axis":{"values":[0,50,100],"title":"θ̇₁","titleFontSize":10,"titlePadding":0}}}},
    {"data":{"values":[{}]},"mark":{"type":"rule","color":"#cfcfcf","strokeWidth":0.6,"strokeDash":[2,2]},"encoding":{"y":{"datum":0,"type":"quantitative","scale":{"domain":[-65,88],"nice":false},"axis":{"values":[-50,0,50],"title":"θ̇₂","titleFontSize":11}}}},
    {"data":{"name":"d4"},"transform":[{"filter":"datum.k>0"}],"mark":{"type":"line","interpolate":"catmull-rom","color":"#c4dea8","strokeWidth":0.7},
     "encoding":{"x":{"field":"x","type":"quantitative","scale":{"domain":[-12,115],"nice":false},"axis":{"values":[0,50,100],"title":"θ̇₁","titleFontSize":10,"titlePadding":0}},"y":{"field":"y","type":"quantitative","scale":{"domain":[-65,88],"nice":false},"axis":{"values":[-50,0,50],"title":"θ̇₂","titleFontSize":11}},"detail":{"field":"k"},"order":{"field":"i"}}},
    {"data":{"name":"d4"},"transform":[{"filter":"datum.k==0"}],"mark":{"type":"line","color":"#68a032","strokeWidth":1.2,"strokeDash":[3,2]},
     "encoding":{"x":{"field":"x","type":"quantitative","scale":{"domain":[-12,115],"nice":false},"axis":{"values":[0,50,100],"title":"θ̇₁","titleFontSize":10,"titlePadding":0}},"y":{"field":"y","type":"quantitative","scale":{"domain":[-65,88],"nice":false},"axis":{"values":[-50,0,50],"title":"θ̇₂","titleFontSize":11}},"order":{"field":"i"}}}]},
   {"width":66,"height":39,"title":{"text":"FOL","fontSize":8,"offset":2},"layer":[
    {"data":{"values":[{}]},"mark":{"type":"rule","color":"#d9d9d9","strokeWidth":0.6},"encoding":{"x":{"datum":0,"type":"quantitative","scale":{"domain":[-12,115],"nice":false},"axis":{"values":[0,50,100],"title":"θ̇₁","titleFontSize":10,"titlePadding":0}}}},
    {"data":{"values":[{}]},"mark":{"type":"rule","color":"#cfcfcf","strokeWidth":0.6,"strokeDash":[2,2]},"encoding":{"y":{"datum":0,"type":"quantitative","scale":{"domain":[-65,88],"nice":false},"axis":{"values":[-50,0,50],"title":"θ̇₂","titleFontSize":11}}}},
    {"data":{"name":"d5"},"transform":[{"filter":"datum.k>0"}],"mark":{"type":"line","interpolate":"catmull-rom","color":"#f6d79a","strokeWidth":0.7},
     "encoding":{"x":{"field":"x","type":"quantitative","scale":{"domain":[-12,115],"nice":false},"axis":{"values":[0,50,100],"title":"θ̇₁","titleFontSize":10,"titlePadding":0}},"y":{"field":"y","type":"quantitative","scale":{"domain":[-65,88],"nice":false},"axis":{"values":[-50,0,50],"title":"θ̇₂","titleFontSize":11}},"detail":{"field":"k"},"order":{"field":"i"}}},
    {"data":{"name":"d5"},"transform":[{"filter":"datum.k==0"}],"mark":{"type":"line","color":"#f0b030","strokeWidth":1.2,"strokeDash":[3,2]},
     "encoding":{"x":{"field":"x","type":"quantitative","scale":{"domain":[-12,115],"nice":false},"axis":{"values":[0,50,100],"title":"θ̇₁","titleFontSize":10,"titlePadding":0}},"y":{"field":"y","type":"quantitative","scale":{"domain":[-65,88],"nice":false},"axis":{"values":[-50,0,50],"title":"θ̇₂","titleFontSize":11}},"order":{"field":"i"}}}]}
 ]}
]
}
